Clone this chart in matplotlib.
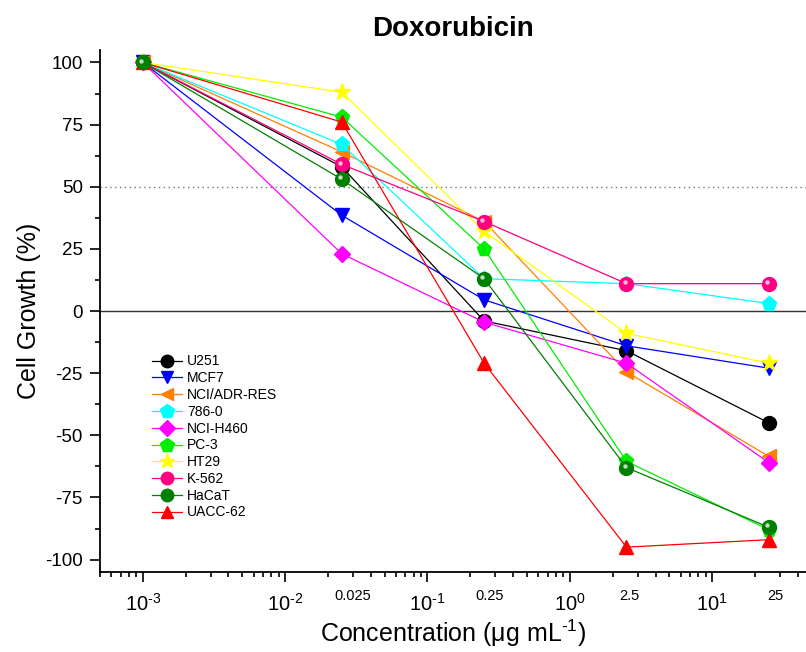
import matplotlib
matplotlib.use('Agg')
import matplotlib.pyplot as plt
from matplotlib.transforms import offset_copy, blended_transform_factory
from matplotlib.ticker import LogLocator, NullFormatter, FixedLocator

plt.rcParams['font.family'] = ['Liberation Sans', 'DejaVu Sans']
plt.rcParams['mathtext.fontset'] = 'custom'
plt.rcParams['mathtext.rm'] = 'Liberation Sans'
plt.rcParams['mathtext.it'] = 'Liberation Sans:italic'
plt.rcParams['mathtext.bf'] = 'Liberation Sans:bold'
plt.rcParams['mathtext.default'] = 'regular'

# concentrations (ug/mL)
conc = [0.001, 0.025, 0.25, 2.5, 25]
conc_labels = ['0.025', '0.25', '2.5', '25']
decades = [1e-3, 1e-2, 1e-1, 1e0, 1e1]
decade_labels = ['$10^{\u20103}$', '$10^{\u20102}$', '$10^{\u20101}$', '$10^{0}$', '$10^{1}$']

# cell growth (%) per cell line
u251 = [100, 58, -4, -16, -45]
mcf7 = [100, 38.5, 4.5, -14, -23]
nci_adr = [100, 64, 36, -24.5, -58.5]
r786 = [100, 67, 13, 11, 3]
nci_h460 = [100, 23, -4.5, -21, -61]
pc3 = [100, 78, 25, -60.5, -88]
ht29 = [100, 88, 32, -9, -21]
k562 = [100, 59, 36, 11, 11]
hacat = [100, 53, 13, -63, -87]
uacc62 = [100, 76, -21, -95, -92]

series = [
    ('U251', u251, 'black', 'o'),
    ('MCF7', mcf7, '#0000FF', 'v'),
    ('NCI/ADR-RES', nci_adr, '#FF8000', '<'),
    ('786-0', r786, '#00FFFF', 'p'),
    ('NCI-H460', nci_h460, '#FF00FF', 'D'),
    ('PC-3', pc3, '#00EE00', 'p'),
    ('HT29', ht29, '#FFFF00', '*'),
    ('K-562', k562, '#FF0080', 'o'),
    ('HaCaT', hacat, '#008000', 'o'),
    ('UACC-62', uacc62, '#FF0000', '^'),
]
balls = ['K-562', 'HaCaT']

fig = plt.figure(figsize=(8.06, 6.52), dpi=100)
ax = fig.add_axes([0.124, 0.1227, 0.876, 0.8006])

ax.axhline(0, color='#333333', lw=1, zorder=1)
ax.axhline(50, color='#777777', lw=1, ls=(0, (1, 2.5)), zorder=1)

for name, vals, col, mk in series:
    ms = 10
    if mk == 'D':
        ms = 8.5
    elif mk == '*':
        ms = 12.5
    elif mk == 'p':
        ms = 11
    z = 3.5 if name == 'HaCaT' else 3
    ax.plot(conc, vals, color=col, lw=0.9, marker=mk, ms=ms,
            markeredgecolor=col, label=name, zorder=z)
    if name in balls:
        # little glossy highlight on the sphere markers
        tr = offset_copy(ax.transData, fig=fig, x=-1.3, y=1.3, units='points')
        ax.plot(conc, vals, ls='none', marker='o', ms=3.2, color='white',
                alpha=0.75, markeredgewidth=0, transform=tr, zorder=z + 0.1)

ax.set_xscale('log')
ax.set_xlim(5e-4, 45.6)
ax.set_ylim(-105, 105)

ax.set_xticks(decades)
ax.set_xticklabels(decade_labels)
ax.xaxis.set_minor_locator(LogLocator(base=10, subs=range(2, 10), numticks=20))
ax.xaxis.set_minor_formatter(NullFormatter())
ax.set_yticks([100, 75, 50, 25, 0, -25, -50, -75, -100])
ax.set_yticklabels(['100', '75', '50', '25', '0', '-25', '-50', '-75', '-100'])
ax.yaxis.set_minor_locator(FixedLocator([87.5, 62.5, 37.5, 12.5, -12.5, -37.5, -62.5, -87.5]))

ax.tick_params(axis='both', which='major', direction='out', length=7.2, width=1.2)
ax.tick_params(axis='both', which='minor', direction='out', length=3.6, width=1.2)
ax.tick_params(axis='y', labelsize=13.5, pad=5)
ax.tick_params(axis='x', labelsize=14.5, pad=8)

for s in ['top', 'right']:
    ax.spines[s].set_visible(False)
for s in ['left', 'bottom']:
    ax.spines[s].set_linewidth(1.3)

# tested concentrations written between the decades
trans = blended_transform_factory(ax.transData, ax.transAxes)
offsets = [1.19, 1.09, 1.05, 1.12]
for c, off, lab in zip(conc[1:], offsets, conc_labels):
    ax.text(c * off, -0.033, lab, transform=trans, ha='center', va='top', fontsize=10.5)

ax.set_title('Doxorubicin', fontsize=20, fontweight='bold', pad=10)
ax.set_ylabel('Cell Growth (%)', fontsize=18, labelpad=3)
ax.set_xlabel('Concentration (μg mL$^{\u20101}$)', fontsize=18, labelpad=2)

ax.legend(loc='upper left', bbox_to_anchor=(0.064, 0.43), frameon=False,
          fontsize=10, borderpad=0, labelspacing=0.2, handlelength=2.16,
          handletextpad=0.36, markerscale=0.9)

fig.savefig('out.png', dpi=100)
